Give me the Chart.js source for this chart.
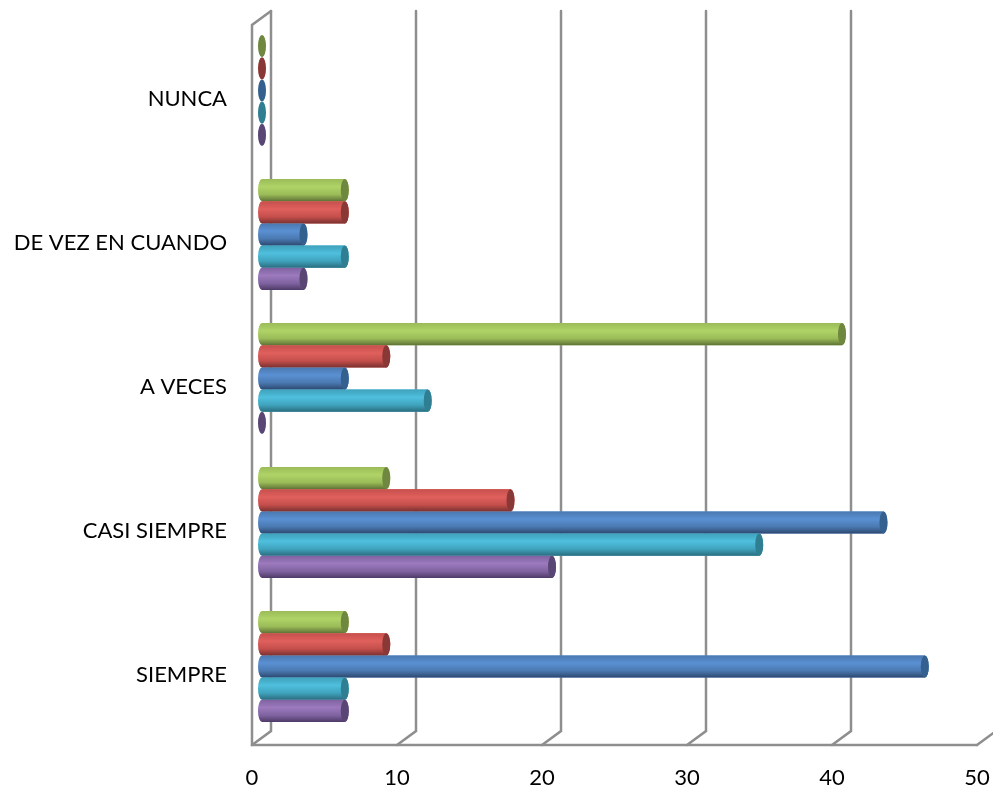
<!DOCTYPE html>
<html><head><meta charset="utf-8">
<script src="https://cdn.jsdelivr.net/npm/chart.js@4"></script>
<style>html,body{margin:0;padding:0;background:#fff;overflow:hidden}canvas{display:block}</style>
</head><body><canvas id="c" width="993" height="789"></canvas>
<script>
const categories = ["NUNCA","DE VEZ EN CUANDO","A VECES","CASI SIEMPRE","SIEMPRE"];
const serieVerde = [0,5.71,40,8.57,5.71];
const serieRoja = [0,5.71,8.57,17.14,8.57];
const serieAzul = [0,2.86,5.71,42.86,45.71];
const serieTurquesa = [0,5.71,11.43,34.29,5.71];
const serieMorada = [0,2.86,0,20,5.71];
const xTicks = [0,10,20,30,40,50];
const paletas = [
 {top:'#9abb57',mid:'#b0d368',bot:'#5e7236',cap:'#6f873f'},
 {top:'#c54f4c',mid:'#e0605d',bot:'#7a3230',cap:'#8a3836'},
 {top:'#4a78b0',mid:'#5a90d2',bot:'#2c486e',cap:'#34608f'},
 {top:'#3fa2bc',mid:'#4fbfdd',bot:'#2a6c7e',cap:'#307e92'},
 {top:'#7f62a0',mid:'#9c7abd',bot:'#4d3a66',cap:'#5a4674'}
];
const series = [serieVerde,serieRoja,serieAzul,serieTurquesa,serieMorada];
const GRID='#8e8e8e', DX=19, DY=14, SHIFT=10;
const decor = {
 id:'decor',
 beforeDatasetsDraw(chart){
  const {ctx,scales:{x}}=chart, B=745, T=B-DY-720;
  ctx.save();ctx.strokeStyle=GRID;ctx.lineWidth=2.5;ctx.lineCap='round';
  xTicks.forEach(v=>{
   const p=x.getPixelForValue(v);
   ctx.beginPath();ctx.moveTo(p,B);ctx.lineTo(p+DX,B-DY);ctx.lineTo(p+DX,T);ctx.stroke();
  });
  const l=x.getPixelForValue(0),r=x.getPixelForValue(50);
  ctx.beginPath();ctx.moveTo(l+DX,T);ctx.lineTo(l,T+DY);ctx.lineTo(l,B);ctx.lineTo(r,B);ctx.stroke();
  ctx.restore();
  ctx.save();ctx.translate(SHIFT,0);
 },
 afterDatasetsDraw(chart){
  const {ctx}=chart;
  chart.data.datasets.forEach((d,i)=>{
   const pal=paletas[i];
   chart.getDatasetMeta(i).data.forEach(b=>{
    const h=b.height,t=b.y-h/2,rx=4;
    if(b.x-b.base>0.5){
     const g=ctx.createLinearGradient(0,t,0,t+h);
     g.addColorStop(0,pal.top);g.addColorStop(.35,pal.mid);g.addColorStop(.7,pal.top);g.addColorStop(1,pal.bot);
     ctx.fillStyle=g;
     ctx.beginPath();
     ctx.ellipse(b.base,b.y,rx,h/2,0,Math.PI/2,Math.PI*1.5);
     ctx.lineTo(b.x,t);
     ctx.ellipse(b.x,b.y,rx,h/2,0,-Math.PI/2,Math.PI/2);
     ctx.closePath();ctx.fill();
    }
    ctx.fillStyle=pal.cap;
    ctx.beginPath();ctx.ellipse(b.x,b.y,rx,h/2,0,0,Math.PI*2);ctx.fill();
   });
  });
  ctx.restore();
 }
};
function sinRelleno(s){s.paddingLeft=0;s.paddingRight=0;s.paddingTop=0;s.paddingBottom=0;}
new Chart(document.getElementById('c'),{
 type:'bar',
 data:{labels:categories,datasets:series.map((s,i)=>({data:s,backgroundColor:paletas[i].mid,borderWidth:0,clip:false,barPercentage:1,categoryPercentage:.771}))},
 options:{
  indexAxis:'y',responsive:false,animation:false,
  layout:{padding:{top:18.5,right:16,left:0,bottom:0}},
  plugins:{legend:{display:false},tooltip:{enabled:false},title:{display:false}},
  scales:{
   x:{min:0,max:50,afterBuildTicks(s){s.ticks=xTicks.map(v=>({value:v}));},
      afterFit(s){s.height=50.5;sinRelleno(s);},
      grid:{display:false},border:{display:false},
      ticks:{padding:18,maxRotation:0,color:'#000',font:{family:'Lato',size:22}}},
   y:{afterFit(s){s.width=252;sinRelleno(s);},
      grid:{display:false},border:{display:false},
      ticks:{padding:17,labelOffset:8,color:'#000',font:{family:'Lato',size:22}}}
  }
 },
 plugins:[decor]
});
</script></body></html>
